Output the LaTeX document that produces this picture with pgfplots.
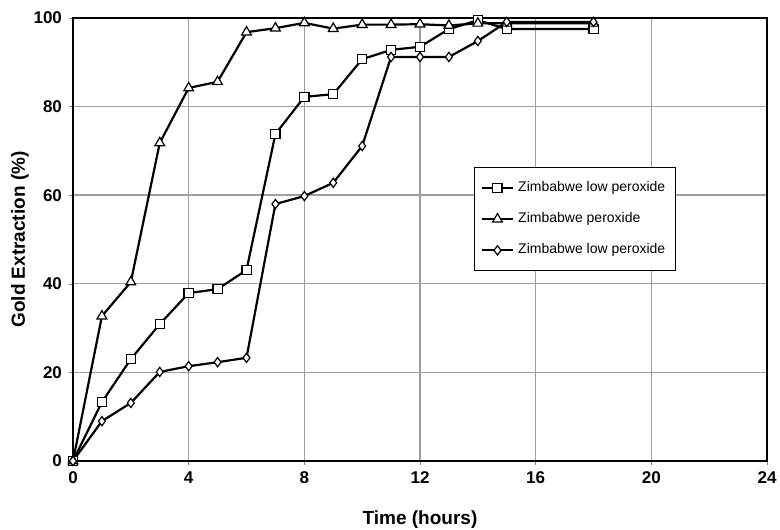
\documentclass[border=0pt]{standalone}
\usepackage{fontspec}
\setmainfont{Liberation Sans}
\usepackage{pgfplots}
\pgfplotsset{compat=1.18}
\begin{document}
\begin{tikzpicture}
\begin{axis}[
  scale only axis,
  width=347pt, height=221.5pt,
  xmin=0, xmax=24, ymin=0, ymax=100,
  xtick={0,4,...,24}, ytick={0,20,...,100},
  tick pos=left, tick align=outside,
  major tick length=2pt,
  /pgf/number format/assume math mode=true,
  ticklabel style={font=\bfseries\fontsize{8.5}{10}\selectfont},
  grid=major,
  major grid style={gray!75, line width=0.7pt},
  axis line style={black, line width=0.8pt},
  xlabel={Time (hours)},
  ylabel={Gold Extraction (\%)},
  label style={font=\bfseries\fontsize{9.5}{11}\selectfont},
  xlabel style={at={(axis description cs:0.5,-0.133)}, anchor=center},
  ylabel style={at={(axis description cs:-0.0764,0.5)}, anchor=center},
  legend style={at={(rel axis cs:0.578,0.664)}, anchor=north west,
    font=\fontsize{7}{8}\selectfont, draw=black, line width=0.6pt,
    row sep=5pt, inner xsep=3pt, inner ysep=5pt},
  legend cell align=left,
  legend image code/.code={
    \draw[#1] (0cm,0cm) -- (0.55cm,0cm);
    \draw[#1, mark repeat=2, mark phase=2] plot coordinates {(0cm,0cm) (0.275cm,0cm) (0.55cm,0cm)};
  },
  every axis plot/.append style={black, line width=1.1pt, mark options={fill=white, line width=0.6pt, solid}},
]
\addplot[mark=square*, mark size=2.3pt] coordinates {
(0,0) (1,13.3) (2,23) (3,30.9) (4,37.9) (5,38.8) (6,43.1) (7,73.8) (8,82.2) (9,82.8)
(10,90.7) (11,92.8) (12,93.5) (13,97.5) (14,99.5) (15,97.5) (18,97.5)};
\addlegendentry{Zimbabwe low peroxide}
\addplot[mark=triangle*, mark size=2.8pt] coordinates {
(0,0) (1,32.7) (2,40.4) (3,71.8) (4,84.2) (5,85.6) (6,96.8) (7,97.7) (8,98.9) (9,97.6)
(10,98.5) (11,98.5) (12,98.6) (13,98.3) (14,98.8) (15,98.8) (18,98.8)};
\addlegendentry{Zimbabwe peroxide}
\addplot[mark=diamond*, mark size=2.3pt] coordinates {
(0,0) (1,9) (2,13.1) (3,20.1) (4,21.4) (5,22.3) (6,23.3) (7,58) (8,59.8) (9,62.8)
(10,71.1) (11,91.2) (12,91.2) (13,91.2) (14,94.8) (15,99.1) (18,99.1)};
\addlegendentry{Zimbabwe low peroxide}
\end{axis}
\pgfresetboundingbox
\path (current axis.south west)+(-36.5pt,-34pt) coordinate (bl);
\path (current axis.north east)+(6.5pt,9pt) coordinate (tr);
\path[use as bounding box] (bl) rectangle (tr);
\end{tikzpicture}
\end{document}
